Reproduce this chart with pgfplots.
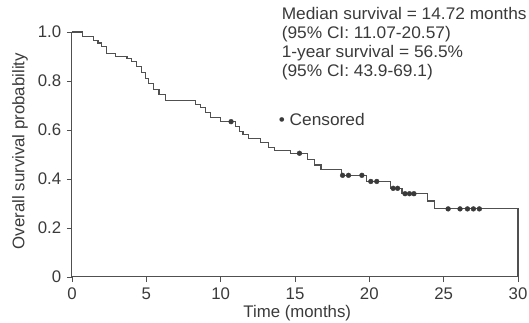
\documentclass[border=0pt]{standalone}
\usepackage{pgfplots}
\pgfplotsset{compat=1.18}
\usepackage{fontspec}
\setmainfont{Liberation Sans}
\newfontfamily\notefont{Liberation Sans}[FakeStretch=1.03]
\definecolor{ink}{HTML}{3A3A3A}
\definecolor{curve}{HTML}{505050}
\begin{document}
\fontsize{16.8}{20}\selectfont
\begin{tikzpicture}
\useasboundingbox (-72pt,-46pt) rectangle (457pt,277pt);
\begin{axis}[
  scale only axis,
  width=446pt, height=245pt,
  xmin=0, xmax=30, ymin=0, ymax=1,
  axis lines*=left,
  axis line style={curve, line width=1pt},
  clip=false,
  xtick={0,5,10,15,20,25,30},
  ytick={0,0.2,0.4,0.6,0.8,1},
  yticklabels={0,0.2,0.4,0.6,0.8,1.0},
  tick align=outside,
  major tick length=5pt,
  tick style={curve, line width=0.8pt},
  /pgf/number format/assume math mode=true,
  ticklabel style={font=\fontsize{16.8}{20}\selectfont, text=ink},
  xlabel={Time (months)},
  ylabel={Overall survival probability},
  label style={font=\fontsize{16.8}{20}\selectfont, text=ink},
  xlabel style={at={([yshift=-36pt]axis description cs:0.505,0)}, anchor=center},
  ylabel style={at={([xshift=-52pt]axis description cs:0,0.514)}, anchor=center},
]
\addplot[const plot, color=curve, line width=1.1pt] coordinates {
(0,1.0) (0.7,0.98) (1.45,0.965) (1.75,0.955) (2.0,0.94) (2.35,0.913)
(2.9,0.9) (3.7,0.893) (4.0,0.88) (4.35,0.86) (4.7,0.835) (4.95,0.81)
(5.15,0.79) (5.5,0.765) (5.85,0.745) (6.3,0.722) (8.3,0.705) (8.65,0.69)
(9.0,0.67) (9.3,0.65) (10.0,0.634) (11.0,0.614) (11.25,0.595) (11.5,0.58)
(11.9,0.566) (12.7,0.55) (13.2,0.53) (13.6,0.518) (14.7,0.505)
(15.85,0.478) (16.3,0.457) (16.75,0.44) (18.1,0.415) (19.8,0.39)
(21.4,0.362) (22.2,0.34) (23.9,0.31) (24.4,0.278) (30,0.278) (30,0)
};
\addplot[only marks, mark=*, mark size=2.4pt, color=ink] coordinates {
(10.7,0.634) (15.3,0.505) (18.2,0.415) (18.6,0.415) (19.5,0.415)
(20.1,0.39) (20.5,0.39) (21.6,0.362) (21.9,0.362) (22.4,0.34) (22.7,0.34)
(23.0,0.34) (25.3,0.278) (26.1,0.278) (26.6,0.278) (27.0,0.278) (27.4,0.278)
};
\node[anchor=base west, text=ink, inner sep=0pt, font=\notefont] at (axis cs:14.1,1.053) {Median survival = 14.72 months};
\node[anchor=base west, text=ink, inner sep=0pt, font=\notefont] at (axis cs:14.1,0.975) {(95\% CI: 11.07-20.57)};
\node[anchor=base west, text=ink, inner sep=0pt, font=\notefont] at (axis cs:14.1,0.897) {1-year survival = 56.5\%};
\node[anchor=base west, text=ink, inner sep=0pt, font=\notefont] at (axis cs:14.1,0.819) {(95\% CI: 43.9-69.1)};
\node[anchor=base west, text=ink, inner sep=0pt, font=\notefont] at (axis cs:13.9,0.62) {• Censored};
\end{axis}
\end{tikzpicture}
\end{document}
